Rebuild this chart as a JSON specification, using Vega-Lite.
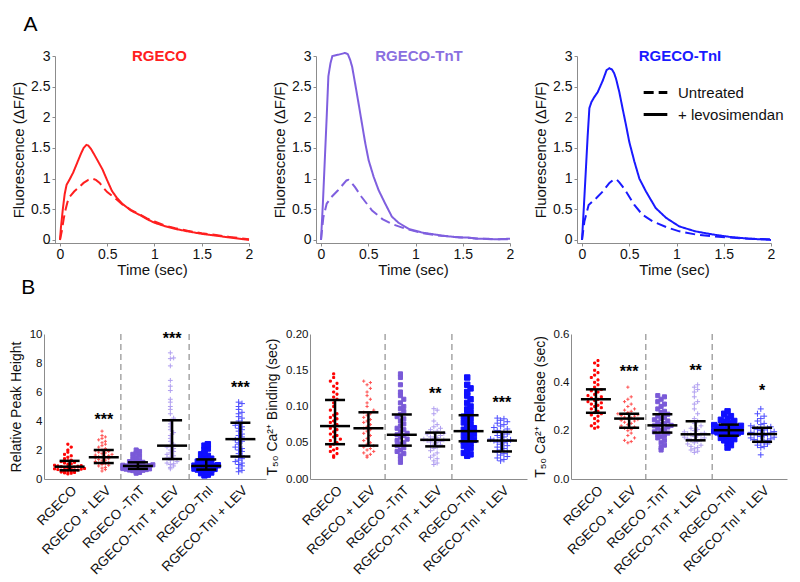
{
"$schema":"https://vega.github.io/schema/vega-lite/v6.json",
"padding":{"top":13,"left":9,"right":5,"bottom":0},
"config":{"font":"Liberation Sans","view":{"stroke":null},
"axis":{"grid":false,"domainColor":"#8c8c8c","tickColor":"#8c8c8c","labelColor":"#111111","titleColor":"#111111","labelFont":"Liberation Sans","titleFont":"Liberation Sans","titleFontWeight":"normal","tickSize":3,"labelFlush":false,"labelOverlap":false},
"title":{"font":"Liberation Sans"},"legend":{"labelFont":"Liberation Sans"}},
"datasets":{
"lines":[
{"s":"R","c":"L","t":0,"f":0},{"s":"R","c":"L","t":0.01,"f":0.2},{"s":"R","c":"L","t":0.03,"f":0.5},{"s":"R","c":"L","t":0.05,"f":0.75},{"s":"R","c":"L","t":0.07,"f":0.9},{"s":"R","c":"L","t":0.1,"f":0.98},{"s":"R","c":"L","t":0.14,"f":1.1},{"s":"R","c":"L","t":0.18,"f":1.25},{"s":"R","c":"L","t":0.22,"f":1.4},{"s":"R","c":"L","t":0.25,"f":1.5},{"s":"R","c":"L","t":0.28,"f":1.55},{"s":"R","c":"L","t":0.3,"f":1.54},{"s":"R","c":"L","t":0.33,"f":1.48},{"s":"R","c":"L","t":0.36,"f":1.4},{"s":"R","c":"L","t":0.4,"f":1.29},{"s":"R","c":"L","t":0.45,"f":1.15},{"s":"R","c":"L","t":0.5,"f":0.97},{"s":"R","c":"L","t":0.55,"f":0.8},{"s":"R","c":"L","t":0.6,"f":0.69},{"s":"R","c":"L","t":0.66,"f":0.59},{"s":"R","c":"L","t":0.75,"f":0.48},{"s":"R","c":"L","t":0.84,"f":0.41},{"s":"R","c":"L","t":0.92,"f":0.34},{"s":"R","c":"L","t":1.0,"f":0.28},{"s":"R","c":"L","t":1.1,"f":0.23},{"s":"R","c":"L","t":1.22,"f":0.18},{"s":"R","c":"L","t":1.35,"f":0.14},{"s":"R","c":"L","t":1.5,"f":0.1},{"s":"R","c":"L","t":1.65,"f":0.07},{"s":"R","c":"L","t":1.79,"f":0.04},{"s":"R","c":"L","t":1.9,"f":0.02},{"s":"R","c":"L","t":2.0,"f":0.0},
{"s":"R","c":"U","t":0,"f":0},{"s":"R","c":"U","t":0.02,"f":0.15},{"s":"R","c":"U","t":0.04,"f":0.35},{"s":"R","c":"U","t":0.06,"f":0.5},{"s":"R","c":"U","t":0.08,"f":0.62},{"s":"R","c":"U","t":0.1,"f":0.7},{"s":"R","c":"U","t":0.15,"f":0.79},{"s":"R","c":"U","t":0.2,"f":0.86},{"s":"R","c":"U","t":0.25,"f":0.93},{"s":"R","c":"U","t":0.3,"f":0.98},{"s":"R","c":"U","t":0.34,"f":1.0},{"s":"R","c":"U","t":0.38,"f":0.98},{"s":"R","c":"U","t":0.42,"f":0.93},{"s":"R","c":"U","t":0.46,"f":0.85},{"s":"R","c":"U","t":0.5,"f":0.78},{"s":"R","c":"U","t":0.55,"f":0.72},{"s":"R","c":"U","t":0.6,"f":0.66},{"s":"R","c":"U","t":0.66,"f":0.58},{"s":"R","c":"U","t":0.75,"f":0.49},{"s":"R","c":"U","t":0.84,"f":0.42},{"s":"R","c":"U","t":0.92,"f":0.35},{"s":"R","c":"U","t":1.0,"f":0.3},{"s":"R","c":"U","t":1.1,"f":0.24},{"s":"R","c":"U","t":1.22,"f":0.19},{"s":"R","c":"U","t":1.35,"f":0.15},{"s":"R","c":"U","t":1.5,"f":0.11},{"s":"R","c":"U","t":1.65,"f":0.08},{"s":"R","c":"U","t":1.79,"f":0.05},{"s":"R","c":"U","t":1.9,"f":0.03},{"s":"R","c":"U","t":2.0,"f":0.01},
{"s":"T","c":"L","t":0,"f":0},{"s":"T","c":"L","t":0.02,"f":0.6},{"s":"T","c":"L","t":0.04,"f":1.3},{"s":"T","c":"L","t":0.06,"f":2.0},{"s":"T","c":"L","t":0.078,"f":2.67},{"s":"T","c":"L","t":0.1,"f":2.88},{"s":"T","c":"L","t":0.12,"f":3.0},{"s":"T","c":"L","t":0.18,"f":3.02},{"s":"T","c":"L","t":0.255,"f":3.05},{"s":"T","c":"L","t":0.284,"f":3.03},{"s":"T","c":"L","t":0.31,"f":2.93},{"s":"T","c":"L","t":0.33,"f":2.82},{"s":"T","c":"L","t":0.36,"f":2.56},{"s":"T","c":"L","t":0.397,"f":2.23},{"s":"T","c":"L","t":0.433,"f":1.9},{"s":"T","c":"L","t":0.468,"f":1.58},{"s":"T","c":"L","t":0.504,"f":1.3},{"s":"T","c":"L","t":0.557,"f":1.03},{"s":"T","c":"L","t":0.61,"f":0.81},{"s":"T","c":"L","t":0.68,"f":0.59},{"s":"T","c":"L","t":0.75,"f":0.38},{"s":"T","c":"L","t":0.82,"f":0.28},{"s":"T","c":"L","t":0.93,"f":0.18},{"s":"T","c":"L","t":1.07,"f":0.12},{"s":"T","c":"L","t":1.2,"f":0.09},{"s":"T","c":"L","t":1.28,"f":0.07},{"s":"T","c":"L","t":1.4,"f":0.05},{"s":"T","c":"L","t":1.46,"f":0.04},{"s":"T","c":"L","t":1.55,"f":0.04},{"s":"T","c":"L","t":1.64,"f":0.02},{"s":"T","c":"L","t":1.75,"f":0.02},{"s":"T","c":"L","t":1.85,"f":0.01},{"s":"T","c":"L","t":2.0,"f":0.02},
{"s":"T","c":"U","t":0,"f":0},{"s":"T","c":"U","t":0.025,"f":0.37},{"s":"T","c":"U","t":0.06,"f":0.59},{"s":"T","c":"U","t":0.11,"f":0.7},{"s":"T","c":"U","t":0.18,"f":0.81},{"s":"T","c":"U","t":0.23,"f":0.9},{"s":"T","c":"U","t":0.27,"f":0.97},{"s":"T","c":"U","t":0.29,"f":0.98},{"s":"T","c":"U","t":0.31,"f":0.96},{"s":"T","c":"U","t":0.36,"f":0.86},{"s":"T","c":"U","t":0.43,"f":0.7},{"s":"T","c":"U","t":0.54,"f":0.48},{"s":"T","c":"U","t":0.65,"f":0.34},{"s":"T","c":"U","t":0.75,"f":0.26},{"s":"T","c":"U","t":0.86,"f":0.2},{"s":"T","c":"U","t":0.95,"f":0.16},{"s":"T","c":"U","t":1.07,"f":0.11},{"s":"T","c":"U","t":1.2,"f":0.08},{"s":"T","c":"U","t":1.4,"f":0.05},{"s":"T","c":"U","t":1.6,"f":0.03},{"s":"T","c":"U","t":1.8,"f":0.01},{"s":"T","c":"U","t":2.0,"f":0.01},
{"s":"I","c":"L","t":0,"f":0},{"s":"I","c":"L","t":0.02,"f":0.55},{"s":"I","c":"L","t":0.04,"f":1.12},{"s":"I","c":"L","t":0.06,"f":1.7},{"s":"I","c":"L","t":0.078,"f":2.15},{"s":"I","c":"L","t":0.1,"f":2.25},{"s":"I","c":"L","t":0.13,"f":2.33},{"s":"I","c":"L","t":0.166,"f":2.41},{"s":"I","c":"L","t":0.22,"f":2.6},{"s":"I","c":"L","t":0.26,"f":2.77},{"s":"I","c":"L","t":0.29,"f":2.8},{"s":"I","c":"L","t":0.317,"f":2.78},{"s":"I","c":"L","t":0.34,"f":2.72},{"s":"I","c":"L","t":0.36,"f":2.63},{"s":"I","c":"L","t":0.395,"f":2.41},{"s":"I","c":"L","t":0.43,"f":2.14},{"s":"I","c":"L","t":0.466,"f":1.87},{"s":"I","c":"L","t":0.5,"f":1.6},{"s":"I","c":"L","t":0.554,"f":1.28},{"s":"I","c":"L","t":0.607,"f":1.0},{"s":"I","c":"L","t":0.677,"f":0.79},{"s":"I","c":"L","t":0.78,"f":0.52},{"s":"I","c":"L","t":0.89,"f":0.36},{"s":"I","c":"L","t":1.03,"f":0.22},{"s":"I","c":"L","t":1.2,"f":0.14},{"s":"I","c":"L","t":1.38,"f":0.09},{"s":"I","c":"L","t":1.56,"f":0.05},{"s":"I","c":"L","t":1.77,"f":0.02},{"s":"I","c":"L","t":2.0,"f":0.0},
{"s":"I","c":"U","t":0,"f":0},{"s":"I","c":"U","t":0.025,"f":0.3},{"s":"I","c":"U","t":0.07,"f":0.57},{"s":"I","c":"U","t":0.15,"f":0.68},{"s":"I","c":"U","t":0.22,"f":0.79},{"s":"I","c":"U","t":0.29,"f":0.93},{"s":"I","c":"U","t":0.34,"f":0.99},{"s":"I","c":"U","t":0.37,"f":0.98},{"s":"I","c":"U","t":0.395,"f":0.94},{"s":"I","c":"U","t":0.43,"f":0.87},{"s":"I","c":"U","t":0.466,"f":0.79},{"s":"I","c":"U","t":0.51,"f":0.68},{"s":"I","c":"U","t":0.554,"f":0.57},{"s":"I","c":"U","t":0.64,"f":0.41},{"s":"I","c":"U","t":0.75,"f":0.3},{"s":"I","c":"U","t":0.89,"f":0.21},{"s":"I","c":"U","t":1.03,"f":0.14},{"s":"I","c":"U","t":1.2,"f":0.09},{"s":"I","c":"U","t":1.38,"f":0.06},{"s":"I","c":"U","t":1.56,"f":0.04},{"s":"I","c":"U","t":1.77,"f":0.02},{"s":"I","c":"U","t":2.0,"f":0.01}
],
"seps":[{"g":"T"},{"g":"I"}],
"stats":[
{"p":1,"g":"R","med":0.85,"q1":0.6,"q3":1.25},{"p":1,"g":"RL","med":1.5,"q1":1.1,"q3":2.0,"sig":"***","sy":4.7},{"p":1,"g":"T","med":0.9,"q1":0.7,"q3":1.15},{"p":1,"g":"TL","med":2.3,"q1":1.38,"q3":4.05,"sig":"***","sy":10.3},{"p":1,"g":"I","med":0.9,"q1":0.65,"q3":1.35},{"p":1,"g":"IL","med":2.75,"q1":1.55,"q3":3.88,"sig":"***","sy":6.9},
{"p":2,"g":"R","med":0.073,"q1":0.048,"q3":0.109},{"p":2,"g":"RL","med":0.07,"q1":0.046,"q3":0.092},{"p":2,"g":"T","med":0.061,"q1":0.046,"q3":0.089},{"p":2,"g":"TL","med":0.054,"q1":0.045,"q3":0.064,"sig":"**","sy":0.129},{"p":2,"g":"I","med":0.066,"q1":0.052,"q3":0.088},{"p":2,"g":"IL","med":0.053,"q1":0.038,"q3":0.065,"sig":"***","sy":0.117},
{"p":3,"g":"R","med":0.33,"q1":0.274,"q3":0.371},{"p":3,"g":"RL","med":0.25,"q1":0.212,"q3":0.27,"sig":"***","sy":0.48},{"p":3,"g":"T","med":0.222,"q1":0.192,"q3":0.268},{"p":3,"g":"TL","med":0.185,"q1":0.16,"q3":0.239,"sig":"**","sy":0.485},{"p":3,"g":"I","med":0.202,"q1":0.179,"q3":0.225},{"p":3,"g":"IL","med":0.186,"q1":0.154,"q3":0.212,"sig":"*","sy":0.4}
],
"pts":[
{"p":1,"g":"R","v":0.35},{"p":1,"g":"R","v":0.4},{"p":1,"g":"R","v":0.42},{"p":1,"g":"R","v":0.45},{"p":1,"g":"R","v":0.48},{"p":1,"g":"R","v":0.5},{"p":1,"g":"R","v":0.52},{"p":1,"g":"R","v":0.55},{"p":1,"g":"R","v":0.58},{"p":1,"g":"R","v":0.6},{"p":1,"g":"R","v":0.62},{"p":1,"g":"R","v":0.65},{"p":1,"g":"R","v":0.68},{"p":1,"g":"R","v":0.7},{"p":1,"g":"R","v":0.72},{"p":1,"g":"R","v":0.75},{"p":1,"g":"R","v":0.78},{"p":1,"g":"R","v":0.8},{"p":1,"g":"R","v":0.82},{"p":1,"g":"R","v":0.85},{"p":1,"g":"R","v":0.88},{"p":1,"g":"R","v":0.9},{"p":1,"g":"R","v":0.92},{"p":1,"g":"R","v":0.95},{"p":1,"g":"R","v":1.0},{"p":1,"g":"R","v":1.05},{"p":1,"g":"R","v":1.1},{"p":1,"g":"R","v":1.15},{"p":1,"g":"R","v":1.2},{"p":1,"g":"R","v":1.25},{"p":1,"g":"R","v":1.3},{"p":1,"g":"R","v":1.4},{"p":1,"g":"R","v":1.5},{"p":1,"g":"R","v":1.6},{"p":1,"g":"R","v":1.7},{"p":1,"g":"R","v":1.85},{"p":1,"g":"R","v":2.0},{"p":1,"g":"R","v":2.2},{"p":1,"g":"R","v":2.4},
{"p":1,"g":"RL","v":0.55},{"p":1,"g":"RL","v":0.65},{"p":1,"g":"RL","v":0.75},{"p":1,"g":"RL","v":0.8},{"p":1,"g":"RL","v":0.9},{"p":1,"g":"RL","v":0.95},{"p":1,"g":"RL","v":1.0},{"p":1,"g":"RL","v":1.05},{"p":1,"g":"RL","v":1.1},{"p":1,"g":"RL","v":1.12},{"p":1,"g":"RL","v":1.2},{"p":1,"g":"RL","v":1.25},{"p":1,"g":"RL","v":1.3},{"p":1,"g":"RL","v":1.35},{"p":1,"g":"RL","v":1.4},{"p":1,"g":"RL","v":1.45},{"p":1,"g":"RL","v":1.5},{"p":1,"g":"RL","v":1.52},{"p":1,"g":"RL","v":1.55},{"p":1,"g":"RL","v":1.6},{"p":1,"g":"RL","v":1.65},{"p":1,"g":"RL","v":1.7},{"p":1,"g":"RL","v":1.75},{"p":1,"g":"RL","v":1.8},{"p":1,"g":"RL","v":1.85},{"p":1,"g":"RL","v":1.9},{"p":1,"g":"RL","v":1.95},{"p":1,"g":"RL","v":2.0},{"p":1,"g":"RL","v":2.1},{"p":1,"g":"RL","v":2.2},{"p":1,"g":"RL","v":2.3},{"p":1,"g":"RL","v":2.4},{"p":1,"g":"RL","v":2.5},{"p":1,"g":"RL","v":2.6},{"p":1,"g":"RL","v":2.7},{"p":1,"g":"RL","v":2.8},{"p":1,"g":"RL","v":2.9},{"p":1,"g":"RL","v":3.0},{"p":1,"g":"RL","v":3.3},
{"p":1,"g":"T","v":0.4},{"p":1,"g":"T","v":0.45},{"p":1,"g":"T","v":0.5},{"p":1,"g":"T","v":0.55},{"p":1,"g":"T","v":0.58},{"p":1,"g":"T","v":0.6},{"p":1,"g":"T","v":0.62},{"p":1,"g":"T","v":0.65},{"p":1,"g":"T","v":0.68},{"p":1,"g":"T","v":0.7},{"p":1,"g":"T","v":0.72},{"p":1,"g":"T","v":0.75},{"p":1,"g":"T","v":0.78},{"p":1,"g":"T","v":0.8},{"p":1,"g":"T","v":0.82},{"p":1,"g":"T","v":0.85},{"p":1,"g":"T","v":0.88},{"p":1,"g":"T","v":0.9},{"p":1,"g":"T","v":0.92},{"p":1,"g":"T","v":0.95},{"p":1,"g":"T","v":0.98},{"p":1,"g":"T","v":1.0},{"p":1,"g":"T","v":1.05},{"p":1,"g":"T","v":1.1},{"p":1,"g":"T","v":1.15},{"p":1,"g":"T","v":1.2},{"p":1,"g":"T","v":1.25},{"p":1,"g":"T","v":1.3},{"p":1,"g":"T","v":1.4},{"p":1,"g":"T","v":1.5},{"p":1,"g":"T","v":1.6},{"p":1,"g":"T","v":1.7},{"p":1,"g":"T","v":1.8},{"p":1,"g":"T","v":1.9},{"p":1,"g":"T","v":2.0},
{"p":1,"g":"TL","v":0.7},{"p":1,"g":"TL","v":0.8},{"p":1,"g":"TL","v":0.9},{"p":1,"g":"TL","v":1.0},{"p":1,"g":"TL","v":1.05},{"p":1,"g":"TL","v":1.1},{"p":1,"g":"TL","v":1.2},{"p":1,"g":"TL","v":1.3},{"p":1,"g":"TL","v":1.38},{"p":1,"g":"TL","v":1.45},{"p":1,"g":"TL","v":1.5},{"p":1,"g":"TL","v":1.6},{"p":1,"g":"TL","v":1.7},{"p":1,"g":"TL","v":1.8},{"p":1,"g":"TL","v":1.9},{"p":1,"g":"TL","v":2.0},{"p":1,"g":"TL","v":2.1},{"p":1,"g":"TL","v":2.2},{"p":1,"g":"TL","v":2.3},{"p":1,"g":"TL","v":2.4},{"p":1,"g":"TL","v":2.6},{"p":1,"g":"TL","v":2.8},{"p":1,"g":"TL","v":3.0},{"p":1,"g":"TL","v":3.2},{"p":1,"g":"TL","v":3.4},{"p":1,"g":"TL","v":3.6},{"p":1,"g":"TL","v":3.8},{"p":1,"g":"TL","v":4.0},{"p":1,"g":"TL","v":4.2},{"p":1,"g":"TL","v":4.5},{"p":1,"g":"TL","v":4.8},{"p":1,"g":"TL","v":5.0},{"p":1,"g":"TL","v":5.3},{"p":1,"g":"TL","v":5.5},{"p":1,"g":"TL","v":6.1},{"p":1,"g":"TL","v":6.4},{"p":1,"g":"TL","v":6.8},{"p":1,"g":"TL","v":7.8},{"p":1,"g":"TL","v":8.3},{"p":1,"g":"TL","v":8.35},{"p":1,"g":"TL","v":8.7},
{"p":1,"g":"I","v":0.25},{"p":1,"g":"I","v":0.3},{"p":1,"g":"I","v":0.4},{"p":1,"g":"I","v":0.45},{"p":1,"g":"I","v":0.5},{"p":1,"g":"I","v":0.55},{"p":1,"g":"I","v":0.6},{"p":1,"g":"I","v":0.62},{"p":1,"g":"I","v":0.65},{"p":1,"g":"I","v":0.7},{"p":1,"g":"I","v":0.72},{"p":1,"g":"I","v":0.75},{"p":1,"g":"I","v":0.78},{"p":1,"g":"I","v":0.8},{"p":1,"g":"I","v":0.85},{"p":1,"g":"I","v":0.88},{"p":1,"g":"I","v":0.9},{"p":1,"g":"I","v":0.92},{"p":1,"g":"I","v":0.95},{"p":1,"g":"I","v":1.0},{"p":1,"g":"I","v":1.05},{"p":1,"g":"I","v":1.1},{"p":1,"g":"I","v":1.15},{"p":1,"g":"I","v":1.2},{"p":1,"g":"I","v":1.25},{"p":1,"g":"I","v":1.3},{"p":1,"g":"I","v":1.35},{"p":1,"g":"I","v":1.4},{"p":1,"g":"I","v":1.5},{"p":1,"g":"I","v":1.6},{"p":1,"g":"I","v":1.7},{"p":1,"g":"I","v":1.8},{"p":1,"g":"I","v":2.0},{"p":1,"g":"I","v":2.1},{"p":1,"g":"I","v":2.3},{"p":1,"g":"I","v":2.4},
{"p":1,"g":"IL","v":0.5},{"p":1,"g":"IL","v":0.6},{"p":1,"g":"IL","v":0.75},{"p":1,"g":"IL","v":0.9},{"p":1,"g":"IL","v":1.0},{"p":1,"g":"IL","v":1.1},{"p":1,"g":"IL","v":1.2},{"p":1,"g":"IL","v":1.3},{"p":1,"g":"IL","v":1.4},{"p":1,"g":"IL","v":1.5},{"p":1,"g":"IL","v":1.6},{"p":1,"g":"IL","v":1.75},{"p":1,"g":"IL","v":1.9},{"p":1,"g":"IL","v":2.0},{"p":1,"g":"IL","v":2.1},{"p":1,"g":"IL","v":2.2},{"p":1,"g":"IL","v":2.4},{"p":1,"g":"IL","v":2.5},{"p":1,"g":"IL","v":2.6},{"p":1,"g":"IL","v":2.7},{"p":1,"g":"IL","v":2.8},{"p":1,"g":"IL","v":2.9},{"p":1,"g":"IL","v":3.0},{"p":1,"g":"IL","v":3.1},{"p":1,"g":"IL","v":3.3},{"p":1,"g":"IL","v":3.4},{"p":1,"g":"IL","v":3.5},{"p":1,"g":"IL","v":3.6},{"p":1,"g":"IL","v":3.7},{"p":1,"g":"IL","v":3.8},{"p":1,"g":"IL","v":3.9},{"p":1,"g":"IL","v":4.0},{"p":1,"g":"IL","v":4.2},{"p":1,"g":"IL","v":4.3},{"p":1,"g":"IL","v":4.5},{"p":1,"g":"IL","v":4.6},{"p":1,"g":"IL","v":4.8},{"p":1,"g":"IL","v":5.0},{"p":1,"g":"IL","v":5.2},{"p":1,"g":"IL","v":5.3},
{"p":2,"g":"R","v":0.03},{"p":2,"g":"R","v":0.032},{"p":2,"g":"R","v":0.035},{"p":2,"g":"R","v":0.038},{"p":2,"g":"R","v":0.04},{"p":2,"g":"R","v":0.042},{"p":2,"g":"R","v":0.045},{"p":2,"g":"R","v":0.048},{"p":2,"g":"R","v":0.05},{"p":2,"g":"R","v":0.053},{"p":2,"g":"R","v":0.055},{"p":2,"g":"R","v":0.058},{"p":2,"g":"R","v":0.06},{"p":2,"g":"R","v":0.062},{"p":2,"g":"R","v":0.065},{"p":2,"g":"R","v":0.068},{"p":2,"g":"R","v":0.07},{"p":2,"g":"R","v":0.073},{"p":2,"g":"R","v":0.075},{"p":2,"g":"R","v":0.078},{"p":2,"g":"R","v":0.08},{"p":2,"g":"R","v":0.083},{"p":2,"g":"R","v":0.085},{"p":2,"g":"R","v":0.088},{"p":2,"g":"R","v":0.09},{"p":2,"g":"R","v":0.095},{"p":2,"g":"R","v":0.1},{"p":2,"g":"R","v":0.105},{"p":2,"g":"R","v":0.11},{"p":2,"g":"R","v":0.113},{"p":2,"g":"R","v":0.117},{"p":2,"g":"R","v":0.12},{"p":2,"g":"R","v":0.125},{"p":2,"g":"R","v":0.128},{"p":2,"g":"R","v":0.132},{"p":2,"g":"R","v":0.135},{"p":2,"g":"R","v":0.14},{"p":2,"g":"R","v":0.145},
{"p":2,"g":"RL","v":0.03},{"p":2,"g":"RL","v":0.032},{"p":2,"g":"RL","v":0.034},{"p":2,"g":"RL","v":0.036},{"p":2,"g":"RL","v":0.038},{"p":2,"g":"RL","v":0.04},{"p":2,"g":"RL","v":0.042},{"p":2,"g":"RL","v":0.044},{"p":2,"g":"RL","v":0.046},{"p":2,"g":"RL","v":0.048},{"p":2,"g":"RL","v":0.05},{"p":2,"g":"RL","v":0.053},{"p":2,"g":"RL","v":0.056},{"p":2,"g":"RL","v":0.06},{"p":2,"g":"RL","v":0.063},{"p":2,"g":"RL","v":0.066},{"p":2,"g":"RL","v":0.068},{"p":2,"g":"RL","v":0.07},{"p":2,"g":"RL","v":0.072},{"p":2,"g":"RL","v":0.075},{"p":2,"g":"RL","v":0.078},{"p":2,"g":"RL","v":0.08},{"p":2,"g":"RL","v":0.082},{"p":2,"g":"RL","v":0.085},{"p":2,"g":"RL","v":0.088},{"p":2,"g":"RL","v":0.09},{"p":2,"g":"RL","v":0.092},{"p":2,"g":"RL","v":0.095},{"p":2,"g":"RL","v":0.1},{"p":2,"g":"RL","v":0.105},{"p":2,"g":"RL","v":0.11},{"p":2,"g":"RL","v":0.115},{"p":2,"g":"RL","v":0.12},{"p":2,"g":"RL","v":0.125},{"p":2,"g":"RL","v":0.13},{"p":2,"g":"RL","v":0.133},{"p":2,"g":"RL","v":0.135},
{"p":2,"g":"T","v":0.023},{"p":2,"g":"T","v":0.028},{"p":2,"g":"T","v":0.032},{"p":2,"g":"T","v":0.035},{"p":2,"g":"T","v":0.038},{"p":2,"g":"T","v":0.04},{"p":2,"g":"T","v":0.043},{"p":2,"g":"T","v":0.046},{"p":2,"g":"T","v":0.048},{"p":2,"g":"T","v":0.05},{"p":2,"g":"T","v":0.053},{"p":2,"g":"T","v":0.055},{"p":2,"g":"T","v":0.058},{"p":2,"g":"T","v":0.06},{"p":2,"g":"T","v":0.061},{"p":2,"g":"T","v":0.063},{"p":2,"g":"T","v":0.065},{"p":2,"g":"T","v":0.068},{"p":2,"g":"T","v":0.07},{"p":2,"g":"T","v":0.073},{"p":2,"g":"T","v":0.076},{"p":2,"g":"T","v":0.08},{"p":2,"g":"T","v":0.083},{"p":2,"g":"T","v":0.086},{"p":2,"g":"T","v":0.089},{"p":2,"g":"T","v":0.093},{"p":2,"g":"T","v":0.097},{"p":2,"g":"T","v":0.1},{"p":2,"g":"T","v":0.105},{"p":2,"g":"T","v":0.11},{"p":2,"g":"T","v":0.115},{"p":2,"g":"T","v":0.12},{"p":2,"g":"T","v":0.13},{"p":2,"g":"T","v":0.14},{"p":2,"g":"T","v":0.145},
{"p":2,"g":"TL","v":0.02},{"p":2,"g":"TL","v":0.022},{"p":2,"g":"TL","v":0.025},{"p":2,"g":"TL","v":0.028},{"p":2,"g":"TL","v":0.03},{"p":2,"g":"TL","v":0.033},{"p":2,"g":"TL","v":0.036},{"p":2,"g":"TL","v":0.039},{"p":2,"g":"TL","v":0.042},{"p":2,"g":"TL","v":0.044},{"p":2,"g":"TL","v":0.045},{"p":2,"g":"TL","v":0.047},{"p":2,"g":"TL","v":0.048},{"p":2,"g":"TL","v":0.05},{"p":2,"g":"TL","v":0.051},{"p":2,"g":"TL","v":0.052},{"p":2,"g":"TL","v":0.053},{"p":2,"g":"TL","v":0.054},{"p":2,"g":"TL","v":0.055},{"p":2,"g":"TL","v":0.056},{"p":2,"g":"TL","v":0.057},{"p":2,"g":"TL","v":0.058},{"p":2,"g":"TL","v":0.06},{"p":2,"g":"TL","v":0.062},{"p":2,"g":"TL","v":0.063},{"p":2,"g":"TL","v":0.064},{"p":2,"g":"TL","v":0.066},{"p":2,"g":"TL","v":0.068},{"p":2,"g":"TL","v":0.07},{"p":2,"g":"TL","v":0.072},{"p":2,"g":"TL","v":0.075},{"p":2,"g":"TL","v":0.08},{"p":2,"g":"TL","v":0.09},{"p":2,"g":"TL","v":0.095},{"p":2,"g":"TL","v":0.097},
{"p":2,"g":"I","v":0.032},{"p":2,"g":"I","v":0.034},{"p":2,"g":"I","v":0.036},{"p":2,"g":"I","v":0.04},{"p":2,"g":"I","v":0.043},{"p":2,"g":"I","v":0.046},{"p":2,"g":"I","v":0.048},{"p":2,"g":"I","v":0.05},{"p":2,"g":"I","v":0.052},{"p":2,"g":"I","v":0.054},{"p":2,"g":"I","v":0.056},{"p":2,"g":"I","v":0.058},{"p":2,"g":"I","v":0.06},{"p":2,"g":"I","v":0.062},{"p":2,"g":"I","v":0.064},{"p":2,"g":"I","v":0.066},{"p":2,"g":"I","v":0.068},{"p":2,"g":"I","v":0.07},{"p":2,"g":"I","v":0.072},{"p":2,"g":"I","v":0.075},{"p":2,"g":"I","v":0.078},{"p":2,"g":"I","v":0.08},{"p":2,"g":"I","v":0.083},{"p":2,"g":"I","v":0.086},{"p":2,"g":"I","v":0.088},{"p":2,"g":"I","v":0.092},{"p":2,"g":"I","v":0.096},{"p":2,"g":"I","v":0.1},{"p":2,"g":"I","v":0.105},{"p":2,"g":"I","v":0.11},{"p":2,"g":"I","v":0.115},{"p":2,"g":"I","v":0.12},{"p":2,"g":"I","v":0.125},{"p":2,"g":"I","v":0.13},{"p":2,"g":"I","v":0.14},
{"p":2,"g":"IL","v":0.025},{"p":2,"g":"IL","v":0.027},{"p":2,"g":"IL","v":0.029},{"p":2,"g":"IL","v":0.031},{"p":2,"g":"IL","v":0.033},{"p":2,"g":"IL","v":0.035},{"p":2,"g":"IL","v":0.037},{"p":2,"g":"IL","v":0.038},{"p":2,"g":"IL","v":0.04},{"p":2,"g":"IL","v":0.042},{"p":2,"g":"IL","v":0.044},{"p":2,"g":"IL","v":0.046},{"p":2,"g":"IL","v":0.048},{"p":2,"g":"IL","v":0.05},{"p":2,"g":"IL","v":0.051},{"p":2,"g":"IL","v":0.052},{"p":2,"g":"IL","v":0.053},{"p":2,"g":"IL","v":0.054},{"p":2,"g":"IL","v":0.055},{"p":2,"g":"IL","v":0.057},{"p":2,"g":"IL","v":0.058},{"p":2,"g":"IL","v":0.06},{"p":2,"g":"IL","v":0.062},{"p":2,"g":"IL","v":0.064},{"p":2,"g":"IL","v":0.065},{"p":2,"g":"IL","v":0.067},{"p":2,"g":"IL","v":0.069},{"p":2,"g":"IL","v":0.071},{"p":2,"g":"IL","v":0.073},{"p":2,"g":"IL","v":0.075},{"p":2,"g":"IL","v":0.077},{"p":2,"g":"IL","v":0.079},{"p":2,"g":"IL","v":0.081},{"p":2,"g":"IL","v":0.083},{"p":2,"g":"IL","v":0.084},
{"p":3,"g":"R","v":0.21},{"p":3,"g":"R","v":0.215},{"p":3,"g":"R","v":0.22},{"p":3,"g":"R","v":0.23},{"p":3,"g":"R","v":0.24},{"p":3,"g":"R","v":0.25},{"p":3,"g":"R","v":0.26},{"p":3,"g":"R","v":0.265},{"p":3,"g":"R","v":0.27},{"p":3,"g":"R","v":0.275},{"p":3,"g":"R","v":0.28},{"p":3,"g":"R","v":0.29},{"p":3,"g":"R","v":0.295},{"p":3,"g":"R","v":0.3},{"p":3,"g":"R","v":0.305},{"p":3,"g":"R","v":0.31},{"p":3,"g":"R","v":0.315},{"p":3,"g":"R","v":0.32},{"p":3,"g":"R","v":0.325},{"p":3,"g":"R","v":0.33},{"p":3,"g":"R","v":0.335},{"p":3,"g":"R","v":0.34},{"p":3,"g":"R","v":0.345},{"p":3,"g":"R","v":0.35},{"p":3,"g":"R","v":0.36},{"p":3,"g":"R","v":0.365},{"p":3,"g":"R","v":0.37},{"p":3,"g":"R","v":0.38},{"p":3,"g":"R","v":0.39},{"p":3,"g":"R","v":0.4},{"p":3,"g":"R","v":0.41},{"p":3,"g":"R","v":0.42},{"p":3,"g":"R","v":0.43},{"p":3,"g":"R","v":0.44},{"p":3,"g":"R","v":0.45},{"p":3,"g":"R","v":0.47},{"p":3,"g":"R","v":0.48},{"p":3,"g":"R","v":0.49},
{"p":3,"g":"RL","v":0.15},{"p":3,"g":"RL","v":0.155},{"p":3,"g":"RL","v":0.16},{"p":3,"g":"RL","v":0.17},{"p":3,"g":"RL","v":0.18},{"p":3,"g":"RL","v":0.19},{"p":3,"g":"RL","v":0.2},{"p":3,"g":"RL","v":0.205},{"p":3,"g":"RL","v":0.21},{"p":3,"g":"RL","v":0.215},{"p":3,"g":"RL","v":0.22},{"p":3,"g":"RL","v":0.225},{"p":3,"g":"RL","v":0.23},{"p":3,"g":"RL","v":0.235},{"p":3,"g":"RL","v":0.24},{"p":3,"g":"RL","v":0.243},{"p":3,"g":"RL","v":0.246},{"p":3,"g":"RL","v":0.25},{"p":3,"g":"RL","v":0.253},{"p":3,"g":"RL","v":0.256},{"p":3,"g":"RL","v":0.26},{"p":3,"g":"RL","v":0.263},{"p":3,"g":"RL","v":0.266},{"p":3,"g":"RL","v":0.27},{"p":3,"g":"RL","v":0.275},{"p":3,"g":"RL","v":0.28},{"p":3,"g":"RL","v":0.285},{"p":3,"g":"RL","v":0.29},{"p":3,"g":"RL","v":0.3},{"p":3,"g":"RL","v":0.31},{"p":3,"g":"RL","v":0.32},{"p":3,"g":"RL","v":0.33},{"p":3,"g":"RL","v":0.34},{"p":3,"g":"RL","v":0.38},
{"p":3,"g":"T","v":0.12},{"p":3,"g":"T","v":0.13},{"p":3,"g":"T","v":0.14},{"p":3,"g":"T","v":0.15},{"p":3,"g":"T","v":0.16},{"p":3,"g":"T","v":0.17},{"p":3,"g":"T","v":0.175},{"p":3,"g":"T","v":0.18},{"p":3,"g":"T","v":0.185},{"p":3,"g":"T","v":0.19},{"p":3,"g":"T","v":0.195},{"p":3,"g":"T","v":0.2},{"p":3,"g":"T","v":0.205},{"p":3,"g":"T","v":0.21},{"p":3,"g":"T","v":0.215},{"p":3,"g":"T","v":0.22},{"p":3,"g":"T","v":0.222},{"p":3,"g":"T","v":0.225},{"p":3,"g":"T","v":0.23},{"p":3,"g":"T","v":0.235},{"p":3,"g":"T","v":0.24},{"p":3,"g":"T","v":0.245},{"p":3,"g":"T","v":0.25},{"p":3,"g":"T","v":0.255},{"p":3,"g":"T","v":0.26},{"p":3,"g":"T","v":0.268},{"p":3,"g":"T","v":0.275},{"p":3,"g":"T","v":0.28},{"p":3,"g":"T","v":0.29},{"p":3,"g":"T","v":0.3},{"p":3,"g":"T","v":0.31},{"p":3,"g":"T","v":0.32},{"p":3,"g":"T","v":0.33},{"p":3,"g":"T","v":0.34},{"p":3,"g":"T","v":0.345},
{"p":3,"g":"TL","v":0.11},{"p":3,"g":"TL","v":0.115},{"p":3,"g":"TL","v":0.12},{"p":3,"g":"TL","v":0.125},{"p":3,"g":"TL","v":0.13},{"p":3,"g":"TL","v":0.135},{"p":3,"g":"TL","v":0.14},{"p":3,"g":"TL","v":0.145},{"p":3,"g":"TL","v":0.15},{"p":3,"g":"TL","v":0.155},{"p":3,"g":"TL","v":0.16},{"p":3,"g":"TL","v":0.163},{"p":3,"g":"TL","v":0.166},{"p":3,"g":"TL","v":0.17},{"p":3,"g":"TL","v":0.173},{"p":3,"g":"TL","v":0.176},{"p":3,"g":"TL","v":0.18},{"p":3,"g":"TL","v":0.183},{"p":3,"g":"TL","v":0.185},{"p":3,"g":"TL","v":0.188},{"p":3,"g":"TL","v":0.19},{"p":3,"g":"TL","v":0.195},{"p":3,"g":"TL","v":0.2},{"p":3,"g":"TL","v":0.205},{"p":3,"g":"TL","v":0.21},{"p":3,"g":"TL","v":0.22},{"p":3,"g":"TL","v":0.23},{"p":3,"g":"TL","v":0.24},{"p":3,"g":"TL","v":0.25},{"p":3,"g":"TL","v":0.27},{"p":3,"g":"TL","v":0.29},{"p":3,"g":"TL","v":0.31},{"p":3,"g":"TL","v":0.32},{"p":3,"g":"TL","v":0.34},{"p":3,"g":"TL","v":0.36},{"p":3,"g":"TL","v":0.37},{"p":3,"g":"TL","v":0.38},{"p":3,"g":"TL","v":0.39},
{"p":3,"g":"I","v":0.13},{"p":3,"g":"I","v":0.14},{"p":3,"g":"I","v":0.15},{"p":3,"g":"I","v":0.155},{"p":3,"g":"I","v":0.16},{"p":3,"g":"I","v":0.165},{"p":3,"g":"I","v":0.17},{"p":3,"g":"I","v":0.175},{"p":3,"g":"I","v":0.178},{"p":3,"g":"I","v":0.18},{"p":3,"g":"I","v":0.183},{"p":3,"g":"I","v":0.186},{"p":3,"g":"I","v":0.19},{"p":3,"g":"I","v":0.193},{"p":3,"g":"I","v":0.196},{"p":3,"g":"I","v":0.198},{"p":3,"g":"I","v":0.2},{"p":3,"g":"I","v":0.202},{"p":3,"g":"I","v":0.205},{"p":3,"g":"I","v":0.208},{"p":3,"g":"I","v":0.21},{"p":3,"g":"I","v":0.213},{"p":3,"g":"I","v":0.216},{"p":3,"g":"I","v":0.22},{"p":3,"g":"I","v":0.223},{"p":3,"g":"I","v":0.226},{"p":3,"g":"I","v":0.23},{"p":3,"g":"I","v":0.235},{"p":3,"g":"I","v":0.24},{"p":3,"g":"I","v":0.245},{"p":3,"g":"I","v":0.25},{"p":3,"g":"I","v":0.26},{"p":3,"g":"I","v":0.27},{"p":3,"g":"I","v":0.28},
{"p":3,"g":"IL","v":0.1},{"p":3,"g":"IL","v":0.13},{"p":3,"g":"IL","v":0.135},{"p":3,"g":"IL","v":0.14},{"p":3,"g":"IL","v":0.145},{"p":3,"g":"IL","v":0.15},{"p":3,"g":"IL","v":0.153},{"p":3,"g":"IL","v":0.156},{"p":3,"g":"IL","v":0.16},{"p":3,"g":"IL","v":0.163},{"p":3,"g":"IL","v":0.166},{"p":3,"g":"IL","v":0.17},{"p":3,"g":"IL","v":0.173},{"p":3,"g":"IL","v":0.176},{"p":3,"g":"IL","v":0.18},{"p":3,"g":"IL","v":0.183},{"p":3,"g":"IL","v":0.186},{"p":3,"g":"IL","v":0.188},{"p":3,"g":"IL","v":0.19},{"p":3,"g":"IL","v":0.193},{"p":3,"g":"IL","v":0.196},{"p":3,"g":"IL","v":0.2},{"p":3,"g":"IL","v":0.203},{"p":3,"g":"IL","v":0.206},{"p":3,"g":"IL","v":0.21},{"p":3,"g":"IL","v":0.213},{"p":3,"g":"IL","v":0.216},{"p":3,"g":"IL","v":0.22},{"p":3,"g":"IL","v":0.225},{"p":3,"g":"IL","v":0.23},{"p":3,"g":"IL","v":0.24},{"p":3,"g":"IL","v":0.25},{"p":3,"g":"IL","v":0.26},{"p":3,"g":"IL","v":0.27},{"p":3,"g":"IL","v":0.29}
]
},
"columns":1,"spacing":0,
"concat":[
{"title":{"text":"A","anchor":"start","frame":"bounds","fontSize":21,"fontWeight":"normal","dx":12,"offset":14},
"bounds":"flush","spacing":67,
"resolve":{"scale":{"strokeDash":"independent"},"legend":{"strokeDash":"independent"}},
"hconcat":[
{"width":205,"height":187,
"title":{"text":"RGECO","color":"#ff2020","fontSize":15,"fontWeight":"bold","offset":-15,"dx":13,"frame":"group"},
"data":{"name":"lines"},"transform":[{"filter":"datum.s=='R'"}],
"mark":{"type":"line","color":"#ff1f1f","strokeWidth":2},
"encoding":{
"x":{"field":"t","type":"quantitative","scale":{"domain":[-0.169,2],"nice":false,"zero":false},"axis":{"values":[0,0.5,1,1.5,2],"format":"~g","title":"Time (sec)","labelFontSize":14,"titleFontSize":15,"labelPadding":1,"titlePadding":1,"titleX":108}},
"y":{"field":"f","type":"quantitative","scale":{"domain":[-0.05,3],"nice":false,"zero":false},"axis":{"values":[0,0.5,1,1.5,2,2.5,3],"format":"~g","title":"Fluorescence (ΔF/F)","labelFontSize":14,"titleFontSize":15,"labelPadding":2,"titlePadding":4,"offset":-11}},
"strokeDash":{"field":"c","type":"nominal","scale":{"domain":["U","L"],"range":[[10,5],[1,0]]},"legend":null}}},
{"width":194,"height":187,
"title":{"text":"RGECO-TnT","color":"#8a6fe0","fontSize":15,"fontWeight":"bold","offset":-15,"dx":6,"frame":"group"},
"data":{"name":"lines"},"transform":[{"filter":"datum.s=='T'"}],
"mark":{"type":"line","color":"#7f5fdf","strokeWidth":2},
"encoding":{
"x":{"field":"t","type":"quantitative","scale":{"domain":[-0.053,2],"nice":false,"zero":false},"axis":{"values":[0,0.5,1,1.5,2],"format":"~g","title":"Time (sec)","labelFontSize":14,"titleFontSize":15,"labelPadding":1,"titlePadding":1}},
"y":{"field":"f","type":"quantitative","scale":{"domain":[-0.05,3],"nice":false,"zero":false},"axis":{"values":[0,0.5,1,1.5,2,2.5,3],"format":"~g","title":"Fluorescence (ΔF/F)","labelFontSize":14,"titleFontSize":15,"labelPadding":2,"titlePadding":4}},
"strokeDash":{"field":"c","type":"nominal","scale":{"domain":["U","L"],"range":[[10,5],[1,0]]},"legend":null}}},
{"width":194,"height":187,
"title":{"text":"RGECO-TnI","color":"#1a1aff","fontSize":15,"fontWeight":"bold","offset":-15,"dx":6,"frame":"group"},
"data":{"name":"lines"},"transform":[{"filter":"datum.s=='I'"}],
"mark":{"type":"line","color":"#1a1aff","strokeWidth":2},
"encoding":{
"x":{"field":"t","type":"quantitative","scale":{"domain":[-0.053,2],"nice":false,"zero":false},"axis":{"values":[0,0.5,1,1.5,2],"format":"~g","title":"Time (sec)","labelFontSize":14,"titleFontSize":15,"labelPadding":1,"titlePadding":1}},
"y":{"field":"f","type":"quantitative","scale":{"domain":[-0.05,3],"nice":false,"zero":false},"axis":{"values":[0,0.5,1,1.5,2,2.5,3],"format":"~g","title":"Fluorescence (ΔF/F)","labelFontSize":14,"titleFontSize":15,"labelPadding":2,"titlePadding":4}},
"strokeDash":{"field":"c","type":"nominal","scale":{"domain":["U","L"],"range":[[10,5],[1,0]]},
"legend":{"orient":"none","legendX":65,"legendY":23,"title":null,"labelExpr":"datum.value=='U'?'Untreated':'+ levosimendan'","labelFontSize":15,"labelColor":"#111111","symbolType":"stroke","symbolStrokeColor":"black","symbolStrokeWidth":3,"symbolSize":560,"rowPadding":0,"labelOffset":9}}}}
]},
{"title":{"text":"B","anchor":"start","frame":"bounds","fontSize":21,"fontWeight":"normal","dx":12,"offset":30},
"bounds":"flush","spacing":44,
"hconcat":[
{"width":222,"height":145,"resolve":{"axis":{"y":"independent"}},
"layer":[
{"data":{"name":"seps"},"mark":{"type":"rule","color":"#a6a6a6","strokeDash":[6,4],"strokeWidth":1.5},
"encoding":{"x":{"field":"g","type":"nominal","bandPosition":0,"scale":{"type":"band","domain":["R","RL","T","TL","I","IL"],"paddingInner":0,"paddingOuter":0.25},"axis":{"title":null,"labelAngle":-45,"labelAlign":"right","labelBaseline":"top","labelFontSize":13.5,"labelPadding":4,"ticks":false,"labelExpr":"datum.value=='R'?'RGECO':datum.value=='RL'?'RGECO + LEV':datum.value=='T'?'RGECO -TnT':datum.value=='TL'?'RGECO-TnT + LEV':datum.value=='I'?'RGECO-TnI':'RGECO-TnI + LEV'"}}}},
{"data":{"name":"pts"},"transform":[{"filter":"datum.p==1"},{"bin":{"step":0.25},"field":"v","as":"vb"},{"window":[{"op":"row_number","as":"lane"}],"groupby":["g","vb"],"sort":[{"field":"v","order":"ascending"}]}],
"mark":{"type":"point","filled":true,"strokeWidth":1,"opacity":1},
"encoding":{"x":{"field":"g","type":"nominal"},
"xOffset":{"field":"lane","type":"ordinal","scale":{"domain":[11,9,7,5,3,1,2,4,6,8,10,12],"range":[-3,37]}},
"y":{"field":"v","type":"quantitative","scale":{"domain":[0,10],"nice":false},"axis":{"values":[0,2,4,6,8,10],"labelOverlap":false,"title":"Relative Peak Height","labelFontSize":11.5,"titleFontSize":14,"ticks":false,"labelPadding":2,"titlePadding":6}},
"fill":{"field":"g","type":"nominal","scale":{"domain":["R","RL","T","TL","I","IL"],"range":["#ff0000","#ff5252","#7a5ad8","#b09ff0","#1010ff","#4d4dff"]},"legend":null},
"stroke":{"field":"g","type":"nominal","scale":{"domain":["R","RL","T","TL","I","IL"],"range":["#ff0000","#ff5252","#7a5ad8","#b09ff0","#1010ff","#4d4dff"]},"legend":null},
"shape":{"field":"g","type":"nominal","scale":{"domain":["R","RL","T","TL","I","IL"],"range":["square","M-1,0H1M0,-1V1","square","M-1,0H1M0,-1V1","square","M-1,0H1M0,-1V1"]},"legend":null},
"size":{"field":"g","type":"ordinal","scale":{"domain":["R","RL","T","TL","I","IL"],"range":[4,36,4,36,4,36]},"legend":null}}},
{"data":{"name":"stats"},"transform":[{"filter":"datum.p==1"}],"mark":{"type":"rule","color":"black","strokeWidth":2.5},"encoding":{"x":{"field":"g","type":"nominal"},"y":{"field":"q1","type":"quantitative","axis":null},"y2":{"field":"q3"}}},
{"data":{"name":"stats"},"transform":[{"filter":"datum.p==1"}],"mark":{"type":"tick","color":"black","thickness":2.5,"size":30,"opacity":1},"encoding":{"x":{"field":"g","type":"nominal"},"y":{"field":"med","type":"quantitative","axis":null}}},
{"data":{"name":"stats"},"transform":[{"filter":"datum.p==1"}],"mark":{"type":"tick","color":"black","thickness":2.5,"size":20,"opacity":1},"encoding":{"x":{"field":"g","type":"nominal"},"y":{"field":"q1","type":"quantitative","axis":null}}},
{"data":{"name":"stats"},"transform":[{"filter":"datum.p==1"}],"mark":{"type":"tick","color":"black","thickness":2.5,"size":20,"opacity":1},"encoding":{"x":{"field":"g","type":"nominal"},"y":{"field":"q3","type":"quantitative","axis":null}}},
{"data":{"name":"stats"},"transform":[{"filter":"datum.p==1 && isValid(datum.sig)"}],"mark":{"type":"text","fontSize":16,"fontWeight":"bold","dy":9,"color":"black"},"encoding":{"x":{"field":"g","type":"nominal"},"y":{"field":"sy","type":"quantitative","axis":null},"text":{"field":"sig"}}}
]},
{"width":217,"height":145,"resolve":{"axis":{"y":"independent"}},
"layer":[
{"data":{"name":"seps"},"mark":{"type":"rule","color":"#a6a6a6","strokeDash":[6,4],"strokeWidth":1.5},
"encoding":{"x":{"field":"g","type":"nominal","bandPosition":0,"scale":{"type":"band","domain":["R","RL","T","TL","I","IL"],"paddingInner":0,"paddingOuter":0.25},"axis":{"title":null,"labelAngle":-45,"labelAlign":"right","labelBaseline":"top","labelFontSize":13.5,"labelPadding":4,"ticks":false,"labelExpr":"datum.value=='R'?'RGECO':datum.value=='RL'?'RGECO + LEV':datum.value=='T'?'RGECO -TnT':datum.value=='TL'?'RGECO-TnT + LEV':datum.value=='I'?'RGECO-TnI':'RGECO-TnI + LEV'"}}}},
{"data":{"name":"pts"},"transform":[{"filter":"datum.p==2"},{"bin":{"step":0.008},"field":"v","as":"vb"},{"window":[{"op":"row_number","as":"lane"}],"groupby":["g","vb"],"sort":[{"field":"v","order":"ascending"}]}],
"mark":{"type":"point","filled":true,"strokeWidth":1,"opacity":1},
"encoding":{"x":{"field":"g","type":"nominal"},
"xOffset":{"field":"lane","type":"ordinal","scale":{"domain":[11,9,7,5,3,1,2,4,6,8,10,12],"range":[-10,44]}},
"y":{"field":"v","type":"quantitative","scale":{"domain":[0,0.2],"nice":false},"axis":{"values":[0,0.05,0.1,0.15,0.2],"labelOverlap":false,"format":".2f","title":"T₅₀ Ca²⁺ Binding (sec)","labelFontSize":11.5,"titleFontSize":14,"ticks":false,"labelPadding":2,"titlePadding":6}},
"fill":{"field":"g","type":"nominal","scale":{"domain":["R","RL","T","TL","I","IL"],"range":["#ff0000","#ff5252","#7a5ad8","#b09ff0","#1010ff","#4d4dff"]},"legend":null},
"stroke":{"field":"g","type":"nominal","scale":{"domain":["R","RL","T","TL","I","IL"],"range":["#ff0000","#ff5252","#7a5ad8","#b09ff0","#1010ff","#4d4dff"]},"legend":null},
"shape":{"field":"g","type":"nominal","scale":{"domain":["R","RL","T","TL","I","IL"],"range":["square","M-1,0H1M0,-1V1","square","M-1,0H1M0,-1V1","square","M-1,0H1M0,-1V1"]},"legend":null},
"size":{"field":"g","type":"ordinal","scale":{"domain":["R","RL","T","TL","I","IL"],"range":[4,36,4,36,4,36]},"legend":null}}},
{"data":{"name":"stats"},"transform":[{"filter":"datum.p==2"}],"mark":{"type":"rule","color":"black","strokeWidth":2.5},"encoding":{"x":{"field":"g","type":"nominal"},"y":{"field":"q1","type":"quantitative","axis":null},"y2":{"field":"q3"}}},
{"data":{"name":"stats"},"transform":[{"filter":"datum.p==2"}],"mark":{"type":"tick","color":"black","thickness":2.5,"size":30,"opacity":1},"encoding":{"x":{"field":"g","type":"nominal"},"y":{"field":"med","type":"quantitative","axis":null}}},
{"data":{"name":"stats"},"transform":[{"filter":"datum.p==2"}],"mark":{"type":"tick","color":"black","thickness":2.5,"size":20,"opacity":1},"encoding":{"x":{"field":"g","type":"nominal"},"y":{"field":"q1","type":"quantitative","axis":null}}},
{"data":{"name":"stats"},"transform":[{"filter":"datum.p==2"}],"mark":{"type":"tick","color":"black","thickness":2.5,"size":20,"opacity":1},"encoding":{"x":{"field":"g","type":"nominal"},"y":{"field":"q3","type":"quantitative","axis":null}}},
{"data":{"name":"stats"},"transform":[{"filter":"datum.p==2 && isValid(datum.sig)"}],"mark":{"type":"text","fontSize":16,"fontWeight":"bold","dy":9,"color":"black"},"encoding":{"x":{"field":"g","type":"nominal"},"y":{"field":"sy","type":"quantitative","axis":null},"text":{"field":"sig"}}}
]},
{"width":216,"height":145,"resolve":{"axis":{"y":"independent"}},
"layer":[
{"data":{"name":"seps"},"mark":{"type":"rule","color":"#a6a6a6","strokeDash":[6,4],"strokeWidth":1.5},
"encoding":{"x":{"field":"g","type":"nominal","bandPosition":0,"scale":{"type":"band","domain":["R","RL","T","TL","I","IL"],"paddingInner":0,"paddingOuter":0.25},"axis":{"title":null,"labelAngle":-45,"labelAlign":"right","labelBaseline":"top","labelFontSize":13.5,"labelPadding":4,"ticks":false,"labelExpr":"datum.value=='R'?'RGECO':datum.value=='RL'?'RGECO + LEV':datum.value=='T'?'RGECO -TnT':datum.value=='TL'?'RGECO-TnT + LEV':datum.value=='I'?'RGECO-TnI':'RGECO-TnI + LEV'"}}}},
{"data":{"name":"pts"},"transform":[{"filter":"datum.p==3"},{"bin":{"step":0.025},"field":"v","as":"vb"},{"window":[{"op":"row_number","as":"lane"}],"groupby":["g","vb"],"sort":[{"field":"v","order":"ascending"}]}],
"mark":{"type":"point","filled":true,"strokeWidth":1,"opacity":1},
"encoding":{"x":{"field":"g","type":"nominal"},
"xOffset":{"field":"lane","type":"ordinal","scale":{"domain":[11,9,7,5,3,1,2,4,6,8,10,12],"range":[-6,40]}},
"y":{"field":"v","type":"quantitative","scale":{"domain":[0,0.6],"nice":false},"axis":{"values":[0,0.2,0.4,0.6],"labelOverlap":false,"format":".1f","title":"T₅₀ Ca²⁺ Release (sec)","labelFontSize":11.5,"titleFontSize":14,"ticks":false,"labelPadding":2,"titlePadding":6}},
"fill":{"field":"g","type":"nominal","scale":{"domain":["R","RL","T","TL","I","IL"],"range":["#ff0000","#ff5252","#7a5ad8","#b09ff0","#1010ff","#4d4dff"]},"legend":null},
"stroke":{"field":"g","type":"nominal","scale":{"domain":["R","RL","T","TL","I","IL"],"range":["#ff0000","#ff5252","#7a5ad8","#b09ff0","#1010ff","#4d4dff"]},"legend":null},
"shape":{"field":"g","type":"nominal","scale":{"domain":["R","RL","T","TL","I","IL"],"range":["square","M-1,0H1M0,-1V1","square","M-1,0H1M0,-1V1","square","M-1,0H1M0,-1V1"]},"legend":null},
"size":{"field":"g","type":"ordinal","scale":{"domain":["R","RL","T","TL","I","IL"],"range":[4,36,4,36,4,36]},"legend":null}}},
{"data":{"name":"stats"},"transform":[{"filter":"datum.p==3"}],"mark":{"type":"rule","color":"black","strokeWidth":2.5},"encoding":{"x":{"field":"g","type":"nominal"},"y":{"field":"q1","type":"quantitative","axis":null},"y2":{"field":"q3"}}},
{"data":{"name":"stats"},"transform":[{"filter":"datum.p==3"}],"mark":{"type":"tick","color":"black","thickness":2.5,"size":30,"opacity":1},"encoding":{"x":{"field":"g","type":"nominal"},"y":{"field":"med","type":"quantitative","axis":null}}},
{"data":{"name":"stats"},"transform":[{"filter":"datum.p==3"}],"mark":{"type":"tick","color":"black","thickness":2.5,"size":20,"opacity":1},"encoding":{"x":{"field":"g","type":"nominal"},"y":{"field":"q1","type":"quantitative","axis":null}}},
{"data":{"name":"stats"},"transform":[{"filter":"datum.p==3"}],"mark":{"type":"tick","color":"black","thickness":2.5,"size":20,"opacity":1},"encoding":{"x":{"field":"g","type":"nominal"},"y":{"field":"q3","type":"quantitative","axis":null}}},
{"data":{"name":"stats"},"transform":[{"filter":"datum.p==3 && isValid(datum.sig)"}],"mark":{"type":"text","fontSize":16,"fontWeight":"bold","dy":9,"color":"black"},"encoding":{"x":{"field":"g","type":"nominal"},"y":{"field":"sy","type":"quantitative","axis":null},"text":{"field":"sig"}}}
]}
]}
]
}
